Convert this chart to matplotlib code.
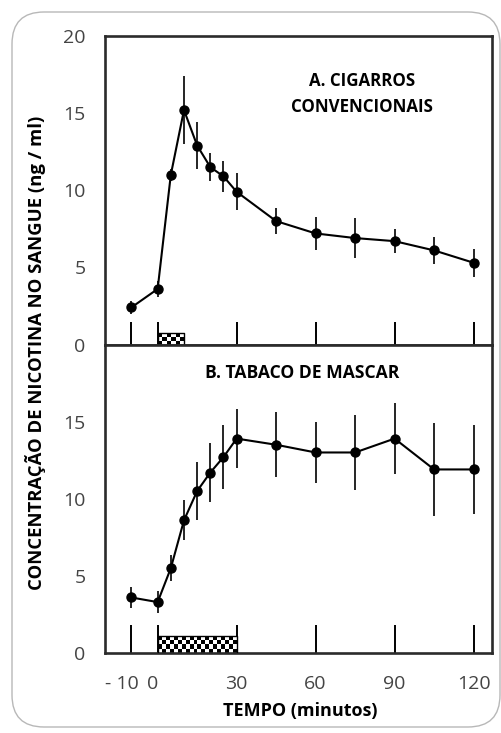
import numpy as np
import matplotlib.pyplot as plt
import matplotlib.transforms as mtransforms
from matplotlib.patches import FancyBboxPatch

plt.rcParams['font.family'] = ['Open Sans', 'DejaVu Sans']

# tempo (minutos)
tempo = [-10, 0, 5, 10, 15, 20, 25, 30, 45, 60, 75, 90, 105, 120]

# A. cigarros convencionais
cig_conc = [2.4, 3.6, 11.0, 15.2, 12.9, 11.5, 10.9, 9.9, 8.0, 7.2, 6.9, 6.7, 6.1, 5.3]
cig_err = [0.4, 0.5, 0.4, 2.2, 1.5, 0.9, 1.0, 1.2, 0.85, 1.05, 1.3, 0.8, 0.9, 0.9]
cig_periodo = (0, 10)

# B. tabaco de mascar
masc_conc = [3.6, 3.3, 5.5, 8.6, 10.5, 11.7, 12.7, 13.9, 13.5, 13.0, 13.0, 13.9, 11.9, 11.9]
masc_err = [0.7, 0.7, 0.85, 1.3, 1.9, 1.9, 2.1, 1.9, 2.1, 2.0, 2.45, 2.3, 3.0, 2.9]
masc_periodo = (0, 30)

xticks = [-10, 0, 30, 60, 90, 120]
xticklabels = ['- 10', '0', '30', '60', '90', '120']

W, H = 502, 733
fig = plt.figure(figsize=(W / 100, H / 100), dpi=100)

# moldura arredondada
frame = FancyBboxPatch((0.12, 0.06), 4.88, 7.15, boxstyle='round,pad=0,rounding_size=0.32',
                       transform=fig.dpi_scale_trans, facecolor='white',
                       edgecolor='#b8b8b8', lw=1.0, zorder=-10)
fig.patches.append(frame)

L, R = 105 / W, 492 / W
ax1 = fig.add_axes([L, 1 - 344.5 / H, R - L, (344.5 - 36) / H])
ax2 = fig.add_axes([L, 1 - 653 / H, R - L, (653 - 344.5) / H])

dark = '#2b2b2b'
tickcol = '#444444'


def checker(ax, periodo, altura):
    x0, x1 = periodo
    ncol = int(round((x1 - x0) * 2.6 / 4))
    nrow = max(2, int(round(altura * 15.4 / 4)))
    cb = (np.indices((nrow, ncol)).sum(axis=0) % 2).astype(float)
    ax.imshow(cb, cmap='gray', extent=(x0, x1, 0, altura), aspect='auto',
              interpolation='nearest', zorder=2)
    ax.plot([x0, x0, x1, x1], [0, altura, altura, 0], color='black', lw=1.0, zorder=3)


for ax, conc, err, periodo, alt, tlen in [
        (ax1, cig_conc, cig_err, cig_periodo, 0.75, 16.5),
        (ax2, masc_conc, masc_err, masc_periodo, 1.1, 20)]:
    ax.errorbar(tempo, conc, yerr=err, fmt='-o', color='black', ms=6.5,
                lw=1.5, elinewidth=1.2, capsize=0, zorder=4)
    checker(ax, periodo, alt)
    ax.set_xlim(-20, 127)
    ax.set_ylim(0, 20)
    ax.set_xticks(xticks)
    ax.tick_params(axis='x', direction='in', length=tlen, width=1.4, color='black',
                   labelsize=14, labelcolor=tickcol, pad=16)
    ax.tick_params(axis='y', direction='in', length=14.5, width=1.4, color='black',
                   labelsize=14, labelcolor=tickcol, pad=14)
    for s in ax.spines.values():
        s.set_linewidth(1.9)
        s.set_color(dark)

ax1.set_yticks([0, 5, 10, 15, 20])
ax1.set_xticklabels([])
ax2.set_yticks([0, 5, 10, 15])
ax2.set_xticklabels(xticklabels)
for t in ax1.yaxis.get_major_ticks() + ax2.yaxis.get_major_ticks():
    if t.get_loc() in (0, 20):
        t.tick1line.set_visible(False)

# rótulos "- 10" e "0" ficam apertados no original
for lab, dx in zip(ax2.get_xticklabels()[:2], [-9, -5]):
    lab.set_transform(lab.get_transform() +
                      mtransforms.ScaledTranslation(dx / 100, 0, fig.dpi_scale_trans))

ax1.text(0.664, 0.812, 'A. CIGARROS\nCONVENCIONAIS', transform=ax1.transAxes,
         ha='center', va='center', fontsize=12.2, fontweight='bold', linespacing=1.55)
ax2.text(0.509, 0.908, 'B. TABACO DE MASCAR', transform=ax2.transAxes,
         ha='center', va='center', fontsize=12.6, fontweight='bold')

fig.text(36 / W, 1 - 353 / H, 'CONCENTRAÇÃO DE NICOTINA NO SANGUE (ng / ml)',
         rotation=90, ha='center', va='center', fontsize=13.3, fontweight='bold')
fig.text(300 / W, 1 - 711 / H, 'TEMPO (minutos)', ha='center', va='center',
         fontsize=13, fontweight='bold')

fig.savefig('out.png', dpi=100)
